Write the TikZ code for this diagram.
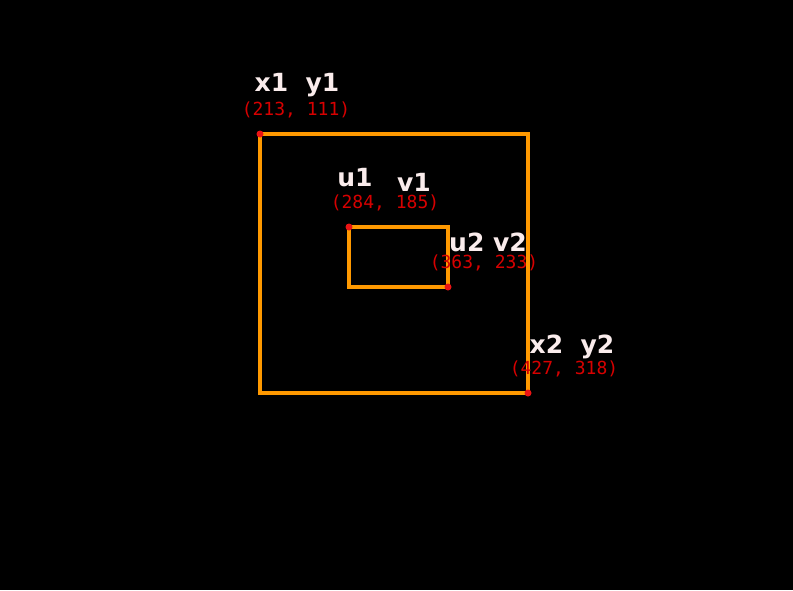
\documentclass[tikz,border=0pt]{standalone}
\usepackage{fontspec}
\setmainfont{DejaVu Sans}
\newfontfamily\coordfont{DejaVu Sans Mono}
\definecolor{boxorange}{RGB}{255,153,0}
\definecolor{dotred}{RGB}{235,20,20}
\definecolor{coordred}{RGB}{215,0,0}
\definecolor{namewhite}{RGB}{250,236,236}
\tikzset{
    namelbl/.style={text=namewhite,font=\bfseries\fontsize{25}{25}\selectfont,inner sep=0pt},
    coordlbl/.style={text=coordred,font=\coordfont\fontsize{18}{18}\selectfont,inner sep=0pt},
    cornerdot/.style={circle,fill=dotred,inner sep=0pt,minimum size=7pt}
}
\begin{document}
\begin{tikzpicture}[x=1pt,y=-1pt]
    \fill[black] (0,0) rectangle (793,590);
    \useasboundingbox (0,0) rectangle (793,590);
    % outer and inner boxes
    \draw[boxorange,line width=3.5pt] (260,134) rectangle (528,393);
    \draw[boxorange,line width=3.5pt] (349,227) rectangle (448,287);
    \foreach \px/\py/\nm in {260/134/tlo,528/393/bro,349/227/tli,448/287/bri}
    \node[cornerdot] (\nm) at (\px,\py) {};
    % corner names
    \node[namelbl] (xy1) at (297,85) {x1\ \ y1};
    \node[namelbl] (u1) at (355,178) {u1};
    \node[namelbl] (v1) at (414,182) {v1};
    \node[namelbl] (uv2) at (488,242) {u2 v2};
    \node[namelbl] (xy2) at (572,347) {x2\ \ y2};
    % pixel values
    \node[coordlbl] (c1) at (296,110) {(213, 111)};
    \node[coordlbl] (c2) at (385,203) {(284, 185)};
    \node[coordlbl] (c3) at (484,263) {(363, 233)};
    \node[coordlbl] (c4) at (564,369) {(427, 318)};
\end{tikzpicture}
\end{document}
